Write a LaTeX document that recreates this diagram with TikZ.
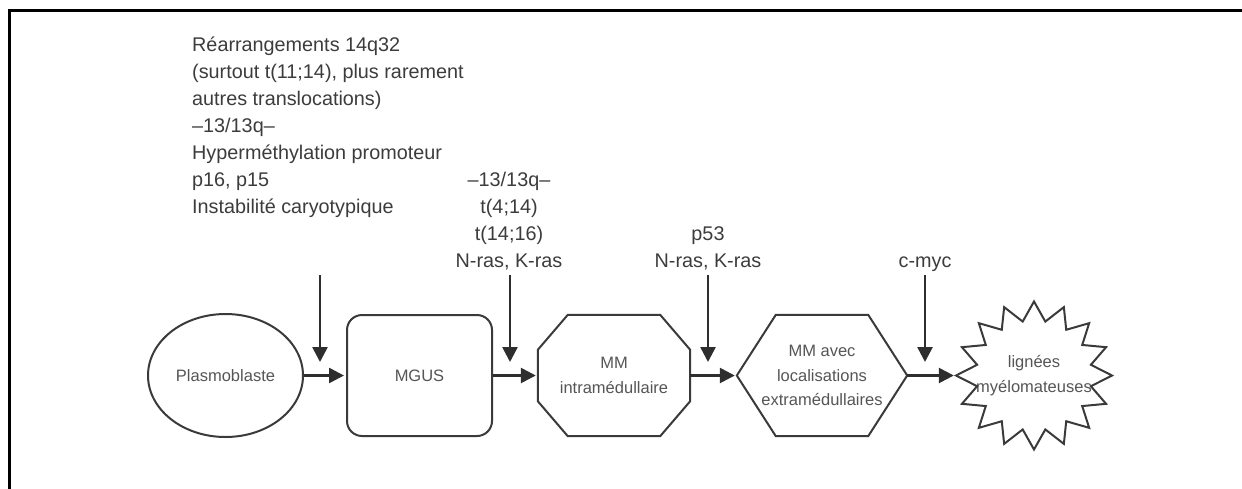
\documentclass[tikz,border=0pt]{standalone}
\usepackage{fontspec}
\setmainfont{Liberation Sans}
\usetikzlibrary{arrows.meta,shapes.geometric,calc}
\definecolor{txtc}{HTML}{3C3C3C}
\definecolor{nodec}{HTML}{555555}
\definecolor{linec}{HTML}{3A3A3A}
\definecolor{arrc}{HTML}{2E2E2E}
\begin{document}
\begin{tikzpicture}[x=1pt,y=-1pt,
  shapeline/.style={draw=linec, line width=2pt, line join=miter},
  flow/.style={draw=arrc, line width=2.6pt, -{Triangle[length=15pt,width=15pt]}, shorten >=2pt},
  drop/.style={draw=arrc, line width=2.6pt, -{Triangle[length=15pt,width=15pt]}},
  annot/.style={inner sep=0pt, text=txtc, font=\fontsize{19.8}{27}\selectfont},
  stage/.style={inner sep=0pt, text=nodec, align=center, font=\fontsize{16.5}{24.5}\selectfont, minimum height=121pt}]
\useasboundingbox (0,0) rectangle (1242,488);
% frame
\draw[line width=3pt] (9,490) -- (9,10) -- (1244,10);
% annotations
\node[annot, align=left, anchor=north west] (ev1) at (192,35)
  {\rule{0pt}{16pt}Réarrangements 14q32\\(surtout t(11;14), plus rarement\\autres translocations)\\–13/13q–\\Hyperméthylation promoteur\\p16, p15\\Instabilité caryotypique};
\node[annot, align=center, anchor=north] (ev2) at (509,170)
  {\rule{0pt}{16pt}–13/13q–\\t(4;14)\\t(14;16)\\N-ras, K-ras};
\node[annot, align=center, anchor=north] (ev3) at (708,224)
  {\rule{0pt}{16pt}p53\\N-ras, K-ras};
\node[annot, anchor=base] (ev4) at (925,267) {c-myc};
% stages
\node[stage, ellipse, draw=linec, line width=2pt, minimum width=155pt, minimum height=123pt] (pla) at (225.5,375.5) {Plasmoblaste};
\node[stage, rectangle, rounded corners=15pt, draw=linec, line width=2pt, minimum width=145pt] (mgus) at (419.5,375.5) {MGUS};
\node[stage, minimum width=152pt] (mmi) at (614,375.5) {MM\\intramédullaire};
\draw[shapeline] ([xshift=30pt]mmi.north west) -- ([xshift=-30pt]mmi.north east)
  -- ([yshift=-35pt]mmi.north east) -- ([yshift=35pt]mmi.south east)
  -- ([xshift=-30pt]mmi.south east) -- ([xshift=30pt]mmi.south west)
  -- ([yshift=35pt]mmi.south west) -- ([yshift=-35pt]mmi.north west) -- cycle;
\node[stage, minimum width=170pt] (mme) at (822,375.5) {MM avec\\localisations\\extramédullaires};
\draw[shapeline] (mme.west) -- ([xshift=39pt]mme.north west) -- ([xshift=-39pt]mme.north east)
  -- (mme.east) -- ([xshift=-39pt]mme.south east) -- ([xshift=39pt]mme.south west) -- cycle;
\node[stage, minimum width=156pt, minimum height=148pt] (lig) at (1034,375.5) {lignées\\myélomateuses};
\draw[shapeline, shift={(lig.center)}]
  plot[samples at={0,...,31}, variable=\k]
  ({(78-20*mod(\k,2))*cos(90+11.25*\k)}, {(74-19*mod(\k,2))*sin(90+11.25*\k)}) -- cycle;
% flow arrows
\draw[flow] (pla.east) -- (mgus.west);
\draw[flow] (mgus.east) -- (mmi.west);
\draw[flow] (mmi.east) -- (mme.west);
\draw[flow] (mme.east) -- (lig.west);
% event arrows
\coordinate (d1a) at (320,275); \coordinate (d1b) at (320,362);
\coordinate (d2a) at (510,275); \coordinate (d2b) at (510,362);
\coordinate (d3a) at (708,275); \coordinate (d3b) at (708,362);
\coordinate (d4a) at (925,275); \coordinate (d4b) at (925,362);
\draw[drop] (d1a) -- (d1b);
\draw[drop] (d2a) -- (d2b);
\draw[drop] (d3a) -- (d3b);
\draw[drop] (d4a) -- (d4b);
\end{tikzpicture}
\end{document}
